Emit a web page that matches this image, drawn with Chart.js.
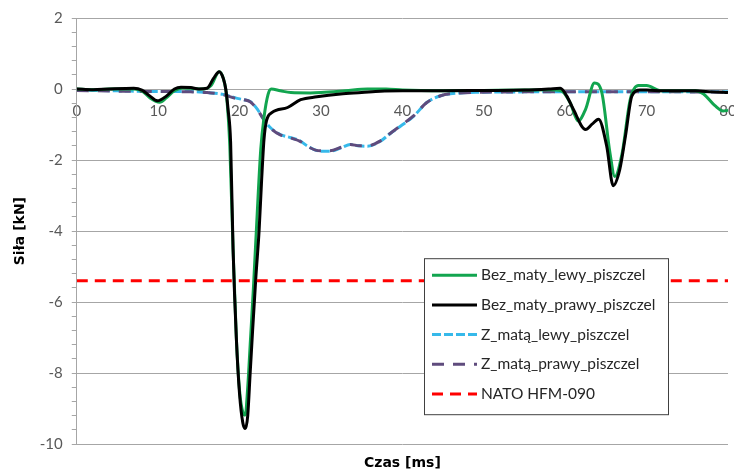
<!DOCTYPE html>
<html><head><meta charset="utf-8">
<script src="https://cdn.jsdelivr.net/npm/chart.js@4.4.1/dist/chart.umd.min.js"></script>
<style>html,body{margin:0;padding:0;background:#fff}canvas{display:block}</style>
</head><body>
<canvas id="c" width="734" height="474"></canvas>
<script>
// ---- tick labels ----
const xTicks = [0, 10, 20, 30, 40, 50, 60, 70, 80];
const yTicks = [-10, -8, -6, -4, -2, 0, 2];

// ---- series names ----
const seriesNames = ['Bez_maty_lewy_piszczel', 'Bez_maty_prawy_piszczel', 'Z_matą_lewy_piszczel', 'Z_matą_prawy_piszczel', 'NATO HFM-090'];

// ---- Bez_maty_lewy_piszczel (green) ----
const tGreen = [0, 2, 4, 7, 8, 9, 10.2, 11, 12, 13, 14, 15.5, 16.5, 17.5, 18, 18.4, 18.8, 19.2, 19.6, 20.0, 20.4, 20.7, 21.0, 21.3, 21.7, 22.1, 22.6, 23.0, 23.5, 23.9, 25, 26.3, 28.7, 30, 33, 35.7, 38, 40, 45, 50, 55, 58, 59.5, 60.6, 61.6, 62.5, 63.6, 64.5, 65.5, 66.1, 67, 68, 69, 70, 71.7, 74, 76, 77, 78.4, 79.4, 80];
const vGreen = [0, -0.02, 0, 0, -0.05, -0.25, -0.37, -0.25, -0.05, 0.03, 0.02, 0, 0.1, 0.49, 0.3, -0.2, -1.6, -4.5, -7.0, -8.5, -9.1, -9.18, -8.4, -7.2, -5.6, -3.8, -1.7, -0.8, -0.15, 0, -0.05, -0.1, -0.11, -0.1, -0.05, 0, 0, -0.03, -0.05, -0.04, -0.03, -0.02, -0.05, -0.38, -0.9, -0.57, 0.17, -0.1, -1.8, -2.46, -1.8, -0.28, 0.1, 0.1, -0.05, -0.05, -0.05, -0.14, -0.47, -0.62, -0.6];

// ---- Bez_maty_prawy_piszczel (black) ----
const tBlack = [0, 2, 4, 7, 8, 9, 9.9, 11, 12, 12.8, 14, 15, 16, 16.8, 17.5, 18, 18.3, 18.6, 18.9, 19.2, 19.6, 20.0, 20.4, 20.7, 21.0, 21.3, 21.6, 22.0, 22.4, 22.7, 23.0, 23.3, 24.0, 25.9, 27.5, 29.5, 32.4, 35, 37.3, 40, 45, 50, 55, 58, 59.4, 60.2, 61.0, 62.5, 63.3, 64.1, 65.1, 65.9, 66.7, 67.4, 68.2, 69.2, 70, 72, 76, 78, 80];
const vBlack = [0, -0.02, 0, 0.02, -0.03, -0.2, -0.33, -0.2, 0, 0.05, 0.04, 0, 0.02, 0.3, 0.49, 0.3, 0, -0.6, -1.5, -4.5, -7.0, -8.6, -9.4, -9.56, -9.2, -8.0, -6.8, -5.3, -3.98, -2.6, -1.42, -0.9, -0.66, -0.52, -0.3, -0.22, -0.14, -0.1, -0.06, -0.05, -0.05, -0.04, -0.03, 0, 0.02, -0.2, -0.57, -1.14, -0.99, -0.85, -1.61, -2.72, -2.27, -1.33, -0.19, -0.03, -0.03, -0.05, -0.05, -0.08, -0.1];

// ---- Z_matą_lewy_piszczel (light blue) ----
const tBlue = [0, 5, 10, 14, 16, 18, 19.5, 20.5, 21.3, 22.2, 22.8, 23.8, 25, 26.3, 27.5, 28.3, 29.9, 31.1, 32.5, 33.6, 34.7, 35.7, 37.3, 38.5, 39.8, 41.4, 43, 44.7, 47.1, 49.6, 55, 60, 65, 70, 75, 80];
const vBlue = [-0.03, -0.05, -0.07, -0.07, -0.1, -0.15, -0.25, -0.3, -0.35, -0.57, -0.8, -1.09, -1.28, -1.37, -1.47, -1.6, -1.75, -1.75, -1.65, -1.56, -1.6, -1.61, -1.47, -1.25, -1.04, -0.76, -0.38, -0.19, -0.11, -0.09, -0.08, -0.08, -0.08, -0.08, -0.08, -0.08];

// ---- Z_matą_prawy_piszczel (purple) ----
const tPurple = [0, 5, 10, 14, 16, 18, 19.5, 20.5, 21.3, 22.2, 22.8, 23.8, 25, 26.3, 27.5, 28.3, 29.9, 31.1, 32.5, 33.6, 34.7, 35.7, 37.3, 38.5, 39.8, 41.4, 43, 44.7, 47.1, 49.6, 55, 60, 65, 70, 75, 80];
const vPurple = [-0.04, -0.06, -0.07, -0.08, -0.1, -0.16, -0.26, -0.3, -0.36, -0.58, -0.8, -1.1, -1.29, -1.38, -1.48, -1.61, -1.74, -1.74, -1.64, -1.56, -1.6, -1.6, -1.46, -1.25, -1.03, -0.75, -0.38, -0.19, -0.11, -0.09, -0.08, -0.08, -0.08, -0.08, -0.08, -0.09];

// ---- NATO HFM-090 limit (red) ----
const tNato = [0, 80];
const vNato = [-5.4, -5.4];

const toPts = (t, v) => t.map((x, i) => ({x: x, y: v[i]}));

const FONT = 'Lato, "Open Sans", "DejaVu Sans", sans-serif';
const TFONT = '"DejaVu Sans", Lato, sans-serif';
const GRID = '#a6a6a6';

const isMajor = v => yTicks.some(t => Math.abs(t - v) < 1e-6);

const boxLegend = {
  id: 'boxLegend',
  afterDatasetsDraw(chart) {
    const ctx = chart.ctx;
    const ca = chart.chartArea;
    const w = 244, h = 156;
    const x0 = ca.right - 60 - w, y0 = ca.bottom - 30 - h;
    ctx.save();
    ctx.setLineDash([]);
    ctx.fillStyle = '#ffffff';
    ctx.fillRect(x0, y0, w, h);
    ctx.strokeStyle = '#404040';
    ctx.lineWidth = 1;
    ctx.strokeRect(x0 + 0.5, y0 + 0.5, w, h);
    ctx.font = '15.5px ' + FONT;
    ctx.textBaseline = 'middle';
    ctx.textAlign = 'left';
    chart.data.datasets.forEach((ds, i) => {
      const cy = y0 + 17 + i * 29.7;
      ctx.save();
      ctx.setLineDash(ds.borderDash || []);
      ctx.strokeStyle = ds.borderColor;
      ctx.lineWidth = ds.borderWidth;
      ctx.beginPath();
      ctx.moveTo(x0 + 8, cy);
      ctx.lineTo(x0 + 53, cy);
      ctx.stroke();
      ctx.restore();
      ctx.fillStyle = '#262626';
      ctx.fillText(ds.label, x0 + 57, cy);
    });
    ctx.restore();
  }
};

const common = {pointRadius: 0, pointHoverRadius: 0, fill: false, cubicInterpolationMode: 'monotone', borderWidth: 3};

new Chart(document.getElementById('c'), {
  type: 'line',
  data: {
    datasets: [
      Object.assign({label: seriesNames[0], data: toPts(tGreen, vGreen), borderColor: '#12a54f', order: 3}, common),
      Object.assign({label: seriesNames[1], data: toPts(tBlack, vBlack), borderColor: '#000000', order: 2}, common),
      Object.assign({label: seriesNames[2], data: toPts(tBlue, vBlue), borderColor: '#36b9ea', borderDash: [9, 3], order: 5}, common),
      Object.assign({label: seriesNames[3], data: toPts(tPurple, vPurple), borderColor: '#5f4b7d', borderDash: [12, 9], order: 4}, common),
      Object.assign({label: seriesNames[4], data: toPts(tNato, vNato), borderColor: '#ff0000', borderDash: [11, 7], order: 1}, common)
    ]
  },
  options: {
    responsive: false,
    animation: false,
    devicePixelRatio: 1,
    layout: {padding: {top: 16, left: 12, right: 0, bottom: 0}},
    events: [],
    scales: {
      x: {
        type: 'linear', min: 0, max: 80,
        position: {y: 0},
        afterFit: s => { s.height = 0; s.paddingLeft = 0; s.paddingRight = 6; },
        afterBuildTicks: s => { s.ticks = xTicks.map(v => ({value: v})); },
        grid: {display: false, drawTicks: false},
        border: {display: false},
        ticks: {padding: 13, color: '#595959', font: {family: FONT, size: 15}, maxRotation: 0, autoSkip: false}
      },
      y: {
        type: 'linear', min: -10, max: 2,
        ticks: {
          stepSize: 0.4, autoSkip: false, padding: 9, color: '#595959',
          font: {family: FONT, size: 15},
          callback: v => isMajor(v) ? String(Math.round(v)) : ''
        },
        grid: {
          color: c => (c.tick && isMajor(c.tick.value)) ? GRID : 'rgba(0,0,0,0)',
          tickColor: GRID, tickLength: 5, lineWidth: 1
        },
        border: {display: true, color: GRID},
        title: {display: true, text: 'Siła [kN]', color: '#000', font: {family: TFONT, size: 14, weight: 'bold'}, padding: {top: 0, bottom: 2}}
      }
    },
    plugins: {
      legend: {display: false},
      tooltip: {enabled: false},
      title: {display: true, text: 'Czas [ms]', position: 'bottom', fullSize: false, color: '#000', font: {family: TFONT, size: 14, weight: 'bold'}, padding: {top: 11, bottom: 2}}
    }
  },
  plugins: [boxLegend]
});
</script>
</body></html>
